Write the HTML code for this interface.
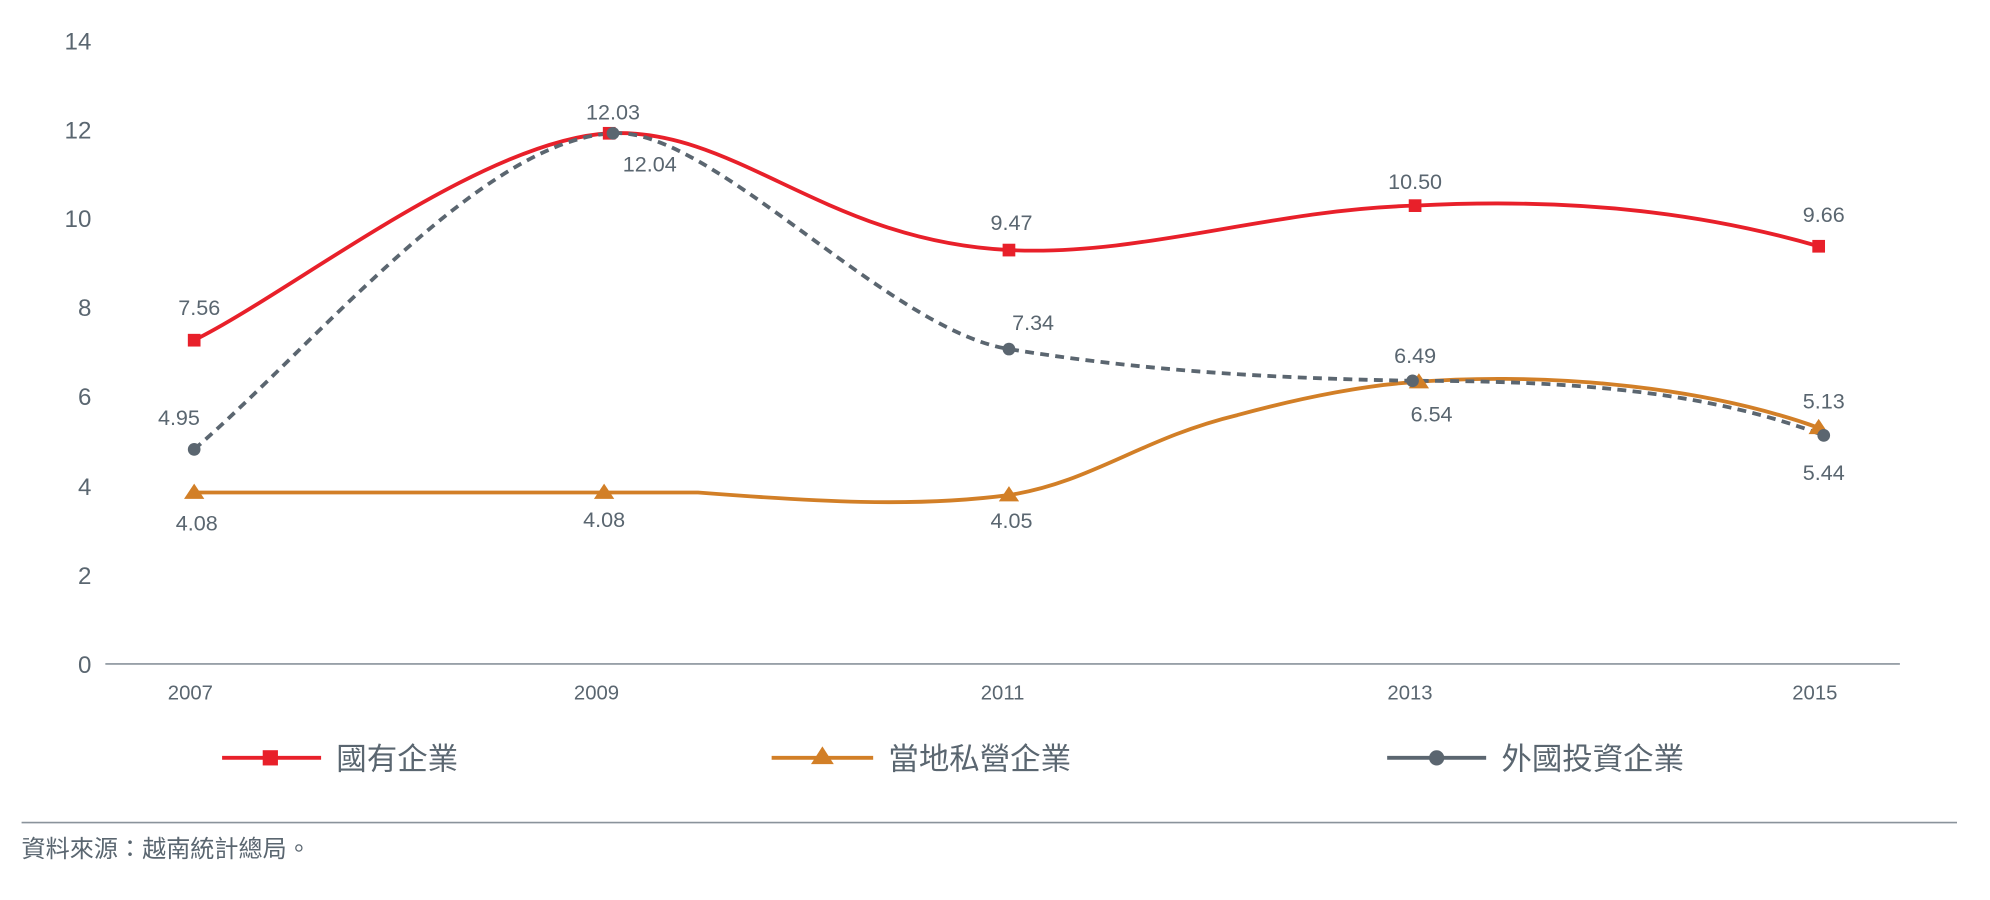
<!DOCTYPE html>
<html><head><meta charset="utf-8"><style>
html,body{margin:0;padding:0;background:#fff;width:1990px;height:900px;overflow:hidden}
svg{display:block}
text{font-family:"Liberation Sans","Noto Sans CJK TC",sans-serif;fill:#5a6670}
</style></head><body>
<svg width="1990" height="900" viewBox="0 0 1568 709" preserveAspectRatio="none">
<g font-size="19" text-anchor="end">
<text x="72" y="39">14</text><text x="72" y="109">12</text><text x="72" y="179">10</text>
<text x="72" y="249">8</text><text x="72" y="319">6</text><text x="72" y="390">4</text>
<text x="72" y="460">2</text><text x="72" y="530">0</text>
</g>
<line x1="83" y1="523" x2="1497" y2="523" stroke="#8a939b" stroke-width="1.3"/>
<g font-size="16" text-anchor="middle">
<text x="150" y="551">2007</text><text x="470" y="551">2009</text><text x="790" y="551">2011</text>
<text x="1111" y="551">2013</text><text x="1430" y="551">2015</text>
</g>
<path d="M153,388 L550,388 C640,395 720,400 795,390 C860,380 900,345 975,327 C1030,312 1080,303 1115,301 C1200,294 1330,300 1433,337" fill="none" stroke="#d27f27" stroke-width="3"/>
<path d="M153,268 C230,230 380,110 480,105 C580,100 650,190 795,197 C900,202 1000,165 1115,162 C1250,155 1350,170 1433,194" fill="none" stroke="#e8202a" stroke-width="3"/>
<path d="M153,354 C250,270 380,110 483,105 C560,100 700,260 795,275 C900,292 1000,298 1115,300 C1250,300 1350,310 1437,343" fill="none" stroke="#5b6670" stroke-width="3" stroke-dasharray="7,5"/>
<g fill="#d27f27">
<polygon points="153,381 161,393 145,393"/><polygon points="476,381 484,393 468,393"/><polygon points="795,383 803,395 787,395"/><polygon points="1118,294 1126,306 1110,306"/><polygon points="1433,330 1441,342 1425,342"/>
</g>
<g fill="#e8202a">
<rect x="148" y="263" width="10" height="10"/><rect x="475" y="100" width="10" height="10"/><rect x="790" y="192" width="10" height="10"/><rect x="1110" y="157" width="10" height="10"/><rect x="1428" y="189" width="10" height="10"/>
</g>
<g fill="#5b6670">
<circle cx="153" cy="354" r="5"/><circle cx="483" cy="105" r="5"/><circle cx="795" cy="275" r="5"/><circle cx="1113" cy="300" r="5"/><circle cx="1437" cy="343" r="5"/>
</g>
<g font-size="17" text-anchor="middle">
<text x="157" y="248">7.56</text><text x="483" y="94">12.03</text><text x="512" y="135">12.04</text>
<text x="797" y="181">9.47</text><text x="1115" y="149">10.50</text><text x="1437" y="175">9.66</text>
<text x="141" y="335">4.95</text><text x="814" y="260">7.34</text><text x="1115" y="286">6.49</text>
<text x="1437" y="322">5.13</text><text x="1128" y="332">6.54</text><text x="1437" y="378">5.44</text>
<text x="155" y="418">4.08</text><text x="476" y="415">4.08</text><text x="797" y="416">4.05</text>
</g>
<line x1="175" y1="597" x2="253" y2="597" stroke="#e8202a" stroke-width="3"/>
<rect x="207" y="591" width="12" height="12" fill="#e8202a"/>
<line x1="608" y1="597" x2="688" y2="597" stroke="#d27f27" stroke-width="3"/>
<polygon points="648,588 657,602 639,602" fill="#d27f27"/>
<line x1="1093" y1="597" x2="1171" y2="597" stroke="#5b6670" stroke-width="3"/>
<circle cx="1132" cy="597" r="6" fill="#5b6670"/>
<g font-size="24">
<text x="265" y="606">國有企業</text><text x="700" y="606">當地私營企業</text><text x="1183" y="606">外國投資企業</text>
</g>
<line x1="17" y1="648" x2="1542" y2="648" stroke="#8a939b" stroke-width="1.3"/>
<text x="17" y="675" font-size="19">資料來源：越南統計總局。</text>
</svg>
</body></html>
